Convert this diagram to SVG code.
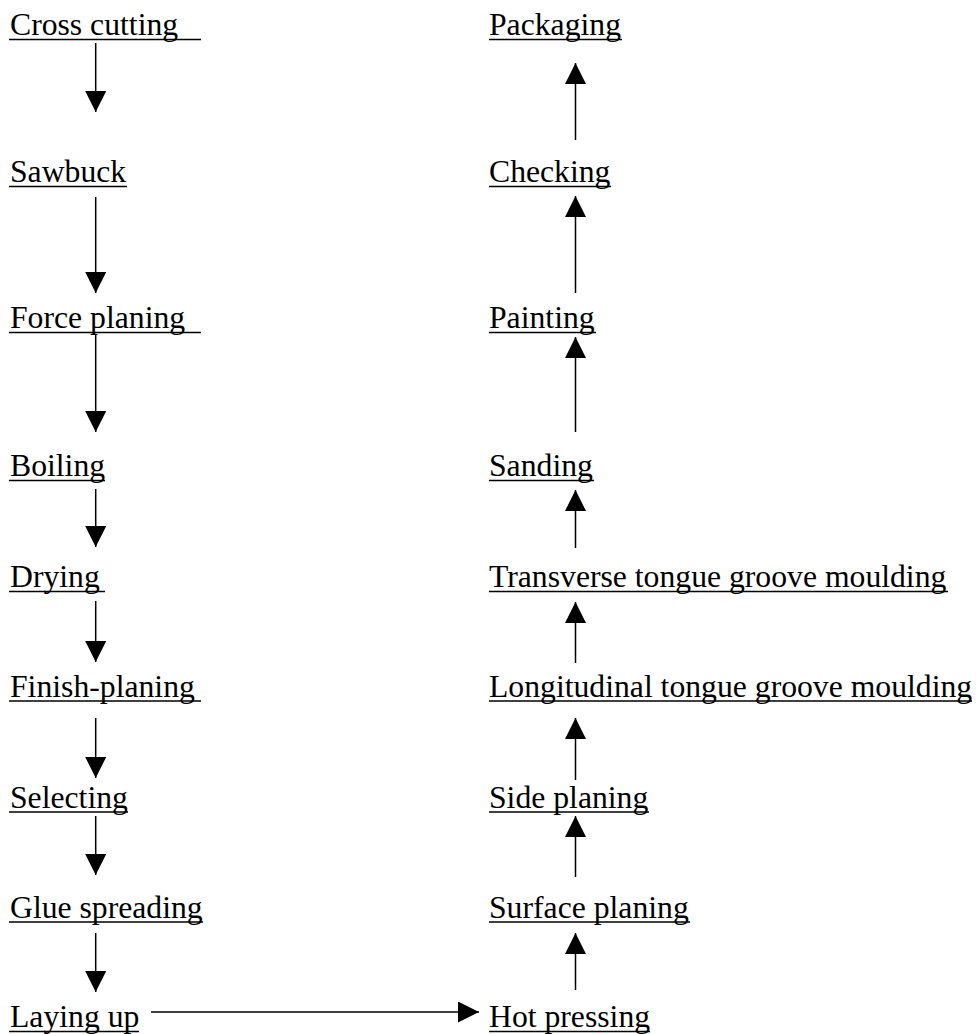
<svg xmlns="http://www.w3.org/2000/svg" width="980" height="1034" viewBox="0 0 980 1034">
<defs>
<style>
text{font-family:"Liberation Serif","Times New Roman",serif;font-size:31.7px;fill:#000}
.ul{stroke:#000;stroke-width:1.7}
.c line{stroke:#000;stroke-width:1.5;marker-end:url(#ah)}
</style>
<marker id="ah" markerUnits="userSpaceOnUse" markerWidth="21" markerHeight="21" refX="21" refY="10.5" orient="auto" viewBox="0 0 21 21">
<path d="M0,0 L21,10.5 L0,21 z" fill="#000"/>
</marker>
</defs>
<rect width="980" height="1034" fill="#fff"/>
<g id="n-cross-cutting"><text x="10" y="35">Cross cutting</text><line class="ul" x1="9" y1="39.5" x2="201" y2="39.5"/></g>
<g id="n-sawbuck"><text x="10" y="182">Sawbuck</text><line class="ul" x1="9" y1="186.5" x2="127" y2="186.5"/></g>
<g id="n-force-planing"><text x="10" y="328">Force planing</text><line class="ul" x1="9" y1="332.5" x2="201" y2="332.5"/></g>
<g id="n-boiling"><text x="10" y="476">Boiling</text><line class="ul" x1="9" y1="480.5" x2="105" y2="480.5"/></g>
<g id="n-drying"><text x="10" y="587">Drying</text><line class="ul" x1="9" y1="591.5" x2="105" y2="591.5"/></g>
<g id="n-finish-planing"><text x="10" y="697">Finish-planing</text><line class="ul" x1="9" y1="701" x2="201" y2="701"/></g>
<g id="n-selecting"><text x="10" y="808">Selecting</text><line class="ul" x1="9" y1="812" x2="128" y2="812"/></g>
<g id="n-glue-spreading"><text x="10" y="918">Glue spreading</text><line class="ul" x1="9" y1="922" x2="203" y2="922"/></g>
<g id="n-laying-up"><text x="10" y="1027">Laying up</text><line class="ul" x1="9" y1="1031.5" x2="139" y2="1031.5"/></g>

<g id="n-packaging"><text x="489" y="35">Packaging</text><line class="ul" x1="489" y1="39.5" x2="622" y2="39.5"/></g>
<g id="n-checking"><text x="489" y="182">Checking</text><line class="ul" x1="489" y1="186.5" x2="611" y2="186.5"/></g>
<g id="n-painting"><text x="489" y="328">Painting</text><line class="ul" x1="489" y1="332.5" x2="596" y2="332.5"/></g>
<g id="n-sanding"><text x="489" y="476">Sanding</text><line class="ul" x1="489" y1="480.5" x2="594" y2="480.5"/></g>
<g id="n-transverse"><text x="489" y="587">Transverse tongue groove moulding</text><line class="ul" x1="489" y1="591.5" x2="948" y2="591.5"/></g>
<g id="n-longitudinal"><text x="489" y="697">Longitudinal tongue groove moulding</text><line class="ul" x1="489" y1="701" x2="972" y2="701"/></g>
<g id="n-side-planing"><text x="489" y="808">Side planing</text><line class="ul" x1="489" y1="812" x2="649" y2="812"/></g>
<g id="n-surface-planing"><text x="489" y="918">Surface planing</text><line class="ul" x1="489" y1="922" x2="690" y2="922"/></g>
<g id="n-hot-pressing"><text x="489" y="1027">Hot pressing</text><line class="ul" x1="489" y1="1031.5" x2="650" y2="1031.5"/></g>

<g id="connectors" class="c">
<line x1="95.7" y1="43" x2="95.7" y2="112"/>
<line x1="95.7" y1="197" x2="95.7" y2="293"/>
<line x1="95.7" y1="335" x2="95.7" y2="432"/>
<line x1="95.7" y1="489" x2="95.7" y2="547"/>
<line x1="95.7" y1="601" x2="95.7" y2="662"/>
<line x1="95.7" y1="718" x2="95.7" y2="778"/>
<line x1="95.7" y1="816" x2="95.7" y2="875"/>
<line x1="95.7" y1="933" x2="95.7" y2="992"/>
<line x1="151" y1="1012" x2="479" y2="1012"/>
<line x1="575.5" y1="990" x2="575.5" y2="933"/>
<line x1="575.5" y1="877" x2="575.5" y2="816"/>
<line x1="575.5" y1="780" x2="575.5" y2="718"/>
<line x1="575.5" y1="663" x2="575.5" y2="602"/>
<line x1="575.5" y1="548" x2="575.5" y2="490"/>
<line x1="575.5" y1="432" x2="575.5" y2="337"/>
<line x1="575.5" y1="293" x2="575.5" y2="196"/>
<line x1="575.5" y1="140" x2="575.5" y2="63"/>
</g>
</svg>
